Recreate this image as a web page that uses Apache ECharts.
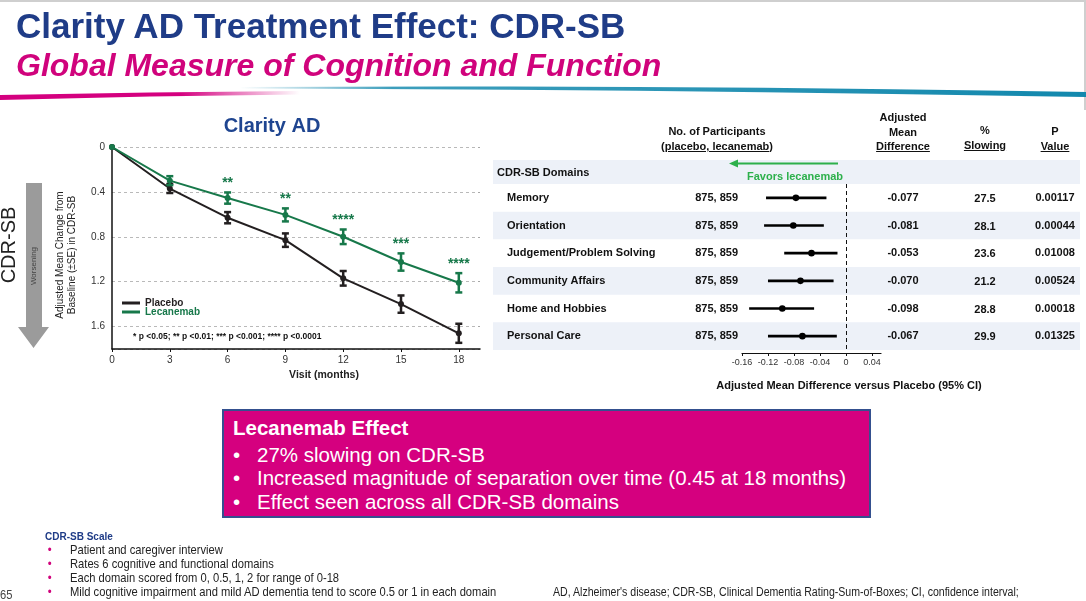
<!DOCTYPE html>
<html>
<head>
<meta charset="utf-8">
<title>Clarity AD Treatment Effect: CDR-SB</title>
<script src="https://cdn.jsdelivr.net/npm/echarts@6/dist/echarts.min.js"></script>
<style>
  html, body { margin: 0; padding: 0; }
  body {
    width: 1086px; height: 601px; overflow: hidden; position: relative;
    background: #fff; font-family: "Liberation Sans", Arial, sans-serif;
  }
  #chart { position: absolute; left: 0; top: 0; width: 1086px; height: 601px; }
  .t { position: absolute; white-space: nowrap; pointer-events: none; }
  .frame-top { position: absolute; left: 0; top: 0; width: 1086px; height: 2px; background: #cfcfcf; }
  .frame-right { position: absolute; right: 0; top: 0; width: 2px; height: 110px; background: #cfcfcf; }
  #title { left: 16px; top: 8px; font-size: 35px; line-height: 35px; font-weight: bold; color: #1f3c87; }
  #subtitle { left: 16px; top: 49px; font-size: 32px; line-height: 32px; font-weight: bold; font-style: italic; color: #d0037c; }
  .hdr { width: 160px; text-align: center; font-size: 11px; line-height: 14.5px; font-weight: bold; color: #111; }
  .hdr u { text-decoration-thickness: 1px; text-underline-offset: 1px; }
  #effect {
    position: absolute; left: 222px; top: 409px; width: 649px; height: 109px; box-sizing: border-box;
    background: #d5007f; border: 2px solid #34508f; color: #fff;
  }
  #effect .eh { position: absolute; left: 9px; top: 5px; font-size: 20.5px; line-height: 24px; font-weight: bold; }
  #effect .eb { position: absolute; left: 33px; font-size: 20.5px; line-height: 24px; white-space: nowrap; }
  #effect .eb span { position: absolute; left: -24px; }
  .narrow {
    font-family: "Liberation Sans Narrow", "Arial Narrow", "Liberation Sans", sans-serif;
    font-size: 13px; line-height: 14px; color: #222; transform: scaleX(0.86); transform-origin: 0 50%;
  }
  .narrow.small { font-size: 12.3px; }
  .dot { color: #d0037c; position: absolute; left: -26px; }
</style>
</head>
<body>
<div id="chart"></div>

<div class="frame-top"></div>
<div class="frame-right"></div>
<div class="t" id="title">Clarity AD Treatment Effect: CDR-SB</div>
<div class="t" id="subtitle">Global Measure of Cognition and Function</div>
<svg class="t" width="1086" height="30" style="left:0;top:80px">
  <defs>
    <linearGradient id="mg" x1="0" x2="1">
      <stop offset="0" stop-color="#d4007f"/>
      <stop offset="0.6" stop-color="#d4007f"/>
      <stop offset="1" stop-color="#d4007f" stop-opacity="0"/>
    </linearGradient>
    <linearGradient id="tl" x1="0" x2="1">
      <stop offset="0" stop-color="#1a8db0" stop-opacity="0"/>
      <stop offset="0.18" stop-color="#1a8db0" stop-opacity="0.85"/>
      <stop offset="1" stop-color="#1288ad"/>
    </linearGradient>
  </defs>
  <path d="M0,15 Q150,12 300,11 L300,14.5 Q150,15.5 0,20 Z" fill="url(#mg)"/>
  <path d="M240,7 Q650,4.5 1086,12 L1086,17 Q650,9.5 240,8.5 Z" fill="url(#tl)"/>
</svg>

<!-- table headings -->
<div class="t hdr" style="left:637px;top:124px">No. of Participants<br><u>(placebo, lecanemab)</u></div>
<div class="t hdr" style="left:823px;top:110px">Adjusted<br>Mean<br><u>Difference</u></div>
<div class="t hdr" style="left:905px;top:123px">%<br><u>Slowing</u></div>
<div class="t hdr" style="left:975px;top:124px">P<br><u>Value</u></div>

<div id="effect">
  <div class="eh">Lecanemab Effect</div>
  <div class="eb" style="top:32px"><span>•</span>27% slowing on CDR-SB</div>
  <div class="eb" style="top:55px"><span>•</span>Increased magnitude of separation over time (0.45 at 18 months)</div>
  <div class="eb" style="top:79px"><span>•</span>Effect seen across all CDR-SB domains</div>
</div>

<div class="t" style="left:45px;top:531px;font-size:10px;line-height:12px;font-weight:bold;color:#1f3c87">CDR-SB Scale</div>
<div class="t narrow" style="left:70px;top:543px"><span class="dot">•</span>Patient and caregiver interview</div>
<div class="t narrow" style="left:70px;top:557px"><span class="dot">•</span>Rates 6 cognitive and functional domains</div>
<div class="t narrow" style="left:70px;top:571px"><span class="dot">•</span>Each domain scored from 0, 0.5, 1, 2 for range of 0-18</div>
<div class="t narrow" style="left:70px;top:585px"><span class="dot">•</span>Mild cognitive impairment and mild AD dementia tend to score 0.5 or 1 in each domain</div>
<div class="t narrow" style="left:0px;top:588px;color:#444">65</div>
<div class="t narrow small" style="left:553px;top:585px">AD, Alzheimer's disease; CDR-SB, Clinical Dementia Rating-Sum-of-Boxes; CI, confidence interval;</div>

<script>
// CDR-SB change from baseline by visit
var visits = [0, 3, 6, 9, 12, 15, 18];
var placeboMean = [0, 0.37, 0.63, 0.83, 1.17, 1.40, 1.66];
var placeboSE = [0, 0.04, 0.05, 0.06, 0.065, 0.077, 0.085];
var lecanemabMean = [0, 0.30, 0.455, 0.605, 0.80, 1.025, 1.21];
var lecanemabSE = [0, 0.04, 0.05, 0.058, 0.065, 0.077, 0.086];
var lecanemabStars = ['', '', '**', '**', '****', '***', '****'];
var changeTicks = [0, 0.4, 0.8, 1.2, 1.6];

// CDR-SB domains
var domains = ['Memory', 'Orientation', 'Judgement/Problem Solving', 'Community Affairs', 'Home and Hobbies', 'Personal Care'];
var participants = ['875, 859', '875, 859', '875, 859', '875, 859', '875, 859', '875, 859'];
var meanDiff = [-0.077, -0.081, -0.053, -0.070, -0.098, -0.067];
var ciLower = [-0.123, -0.126, -0.095, -0.120, -0.149, -0.120];
var ciUpper = [-0.030, -0.034, -0.013, -0.019, -0.049, -0.014];
var diffLabels = ['-0.077', '-0.081', '-0.053', '-0.070', '-0.098', '-0.067'];
var slowing = ['27.5', '28.1', '23.6', '21.2', '28.8', '29.9'];
var pValues = ['0.00117', '0.00044', '0.01008', '0.00524', '0.00018', '0.01325'];
var diffTicks = [-0.16, -0.12, -0.08, -0.04, 0, 0.04];

var FONT = '"Liberation Sans", Arial, sans-serif';
var colorPlacebo = '#231f20';
var colorLecanemab = '#17784a';
var colorFavors = '#2db04b';
var bandColor = '#edf1f8';

var chart = echarts.init(document.getElementById('chart'), null, { renderer: 'canvas' });

function errorBarRenderer(color, stars) {
    return function (params, api) {
        var x = api.value(0);
        var m = api.value(1);
        var s = api.value(2);
        var idx = api.value(3);
        var top = api.coord([x, m - s]);
        var bot = api.coord([x, m + s]);
        var cap = 3.5;
        var style = { stroke: color, lineWidth: 2.5 };
        var children = [
            { type: 'line', shape: { x1: top[0], y1: top[1], x2: bot[0], y2: bot[1] }, style: style },
            { type: 'line', shape: { x1: top[0] - cap, y1: top[1], x2: top[0] + cap, y2: top[1] }, style: style },
            { type: 'line', shape: { x1: bot[0] - cap, y1: bot[1], x2: bot[0] + cap, y2: bot[1] }, style: style }
        ];
        if (stars && stars[idx]) {
            children.push({
                type: 'text', x: top[0], y: top[1] - 9,
                style: { text: stars[idx], fill: color, font: 'bold 14px ' + FONT, textAlign: 'center', textVerticalAlign: 'middle' }
            });
        }
        return { type: 'group', children: children };
    };
}

function errorData(mean, se) {
    var out = [];
    for (var i = 1; i < visits.length; i++) {
        out.push([visits[i], mean[i], se[i], i]);
    }
    return out;
}

function cell(text, x, y, align) {
    return {
        type: 'text', x: x, y: y,
        style: { text: text, fill: '#111', font: 'bold 11px ' + FONT, textAlign: align, textVerticalAlign: 'middle' }
    };
}

function renderRow(params, api) {
    var row = api.value(1);
    var c = api.coord([0, row]);
    var h = api.size([0, 1])[1];
    var y = c[1];
    var children = [];
    if (row % 2 === 1) {
        children.push({ type: 'rect', shape: { x: 493, y: y - h / 2, width: 587, height: h }, style: { fill: bandColor } });
    }
    children.push(cell(domains[row], 507, y, 'left'));
    children.push(cell(participants[row], 738, y, 'right'));
    children.push(cell(diffLabels[row], 903, y, 'center'));
    children.push(cell(slowing[row], 985, y + 1, 'center'));
    children.push(cell(pValues[row], 1055, y, 'center'));
    return { type: 'group', children: children };
}

function renderForest(params, api) {
    var row = api.value(0);
    var lo = api.coord([api.value(1), row]);
    var hi = api.coord([api.value(2), row]);
    var est = api.coord([api.value(3), row]);
    return {
        type: 'group',
        children: [
            { type: 'line', shape: { x1: lo[0], y1: lo[1], x2: hi[0], y2: hi[1] }, style: { stroke: '#000', lineWidth: 2.6 } },
            { type: 'circle', shape: { cx: est[0], cy: est[1], r: 3.3 }, style: { fill: '#000' } }
        ]
    };
}

var legendBase = {
    orient: 'horizontal', left: 117, itemWidth: 18, itemHeight: 3, icon: 'rect', itemGap: 5,
    selectedMode: false, textStyle: { fontSize: 10, fontWeight: 'bold', fontFamily: FONT, padding: [0, 0, 0, 0] }
};

var option = {
    animation: false,
    textStyle: { fontFamily: FONT },
    grid: [
        { left: 112, top: 147, width: 368, height: 202 },
        { left: 742, top: 184, width: 139, height: 166 }
    ],
    legend: [
        echarts.util.merge({ top: 293, data: [{ name: 'Placebo', textStyle: { color: colorPlacebo } }] }, legendBase),
        echarts.util.merge({ top: 302, data: [{ name: 'Lecanemab', textStyle: { color: colorLecanemab } }] }, legendBase)
    ],
    xAxis: [
        {
            gridIndex: 0, type: 'value', min: 0, max: 19.1, interval: 3, position: 'bottom',
            axisLine: { show: true, onZero: false, lineStyle: { color: '#111', width: 1.5 } },
            axisTick: { show: true, length: 3, customValues: visits, lineStyle: { color: '#111' } },
            axisLabel: {
                fontSize: 10, color: '#333', margin: 6, customValues: visits,
                formatter: function (v) { return v % 3 === 0 ? String(v) : ''; }
            },
            splitLine: { show: false }
        },
        {
            gridIndex: 1, type: 'value', min: -0.16, max: 0.054, interval: 0.04, offset: 3, position: 'bottom',
            axisLine: { show: true, onZero: false, lineStyle: { color: '#111', width: 1.2 } },
            axisTick: { show: true, length: 3, customValues: diffTicks, lineStyle: { color: '#111' } },
            axisLabel: {
                fontSize: 9, color: '#333', margin: 5, customValues: diffTicks,
                formatter: function (v) {
                    if (v > 0.045) return '';
                    if (Math.abs(v) < 1e-9) return '0';
                    return v.toFixed(2);
                }
            },
            splitLine: { show: false }
        }
    ],
    yAxis: [
        {
            gridIndex: 0, type: 'value', inverse: true, min: 0, max: 1.8, interval: 0.4,
            axisLine: { show: true, onZero: false, lineStyle: { color: '#111', width: 1.5 } },
            axisTick: { show: false },
            axisLabel: {
                fontSize: 10, color: '#333', margin: 7, customValues: changeTicks,
                formatter: function (v) {
                    if (v > 1.7) return '';
                    return v === 0 ? '0' : v.toFixed(1);
                }
            },
            splitLine: { lineStyle: { type: [3, 3], color: '#a8a8a8', width: 0.8 } }
        },
        { gridIndex: 1, type: 'category', data: domains, inverse: true, show: false }
    ],
    series: [
        {
            name: 'Placebo', type: 'line', xAxisIndex: 0, yAxisIndex: 0,
            data: visits.map(function (v, i) { return [v, placeboMean[i]]; }),
            symbol: 'circle', symbolSize: 6, showAllSymbol: true,
            lineStyle: { color: colorPlacebo, width: 2 }, itemStyle: { color: colorPlacebo }, z: 2
        },
        {
            name: 'Lecanemab', type: 'line', xAxisIndex: 0, yAxisIndex: 0,
            data: visits.map(function (v, i) { return [v, lecanemabMean[i]]; }),
            symbol: 'circle', symbolSize: 6, showAllSymbol: true,
            lineStyle: { color: colorLecanemab, width: 2 }, itemStyle: { color: colorLecanemab }, z: 3
        },
        {
            name: 'Placebo SE', type: 'custom', xAxisIndex: 0, yAxisIndex: 0, clip: false,
            data: errorData(placeboMean, placeboSE), encode: { x: 0, y: 1 },
            renderItem: errorBarRenderer(colorPlacebo, null), z: 4
        },
        {
            name: 'Lecanemab SE', type: 'custom', xAxisIndex: 0, yAxisIndex: 0, clip: false,
            data: errorData(lecanemabMean, lecanemabSE), encode: { x: 0, y: 1 },
            renderItem: errorBarRenderer(colorLecanemab, lecanemabStars), z: 5
        },
        {
            name: 'Domain rows', type: 'custom', xAxisIndex: 1, yAxisIndex: 1, clip: false,
            data: domains.map(function (d, i) { return [0, i]; }), encode: { x: 0, y: 1 },
            renderItem: renderRow, z: 1, silent: true
        },
        {
            name: 'Mean difference', type: 'custom', xAxisIndex: 1, yAxisIndex: 1, clip: false,
            data: domains.map(function (d, i) { return [i, ciLower[i], ciUpper[i], meanDiff[i]]; }),
            encode: { x: [1, 2, 3], y: 0 },
            renderItem: renderForest, z: 3,
            markLine: {
                silent: true, symbol: 'none', label: { show: false },
                lineStyle: { type: [4, 3], color: '#111', width: 1 },
                data: [{ xAxis: 0 }]
            }
        }
    ],
    graphic: {
        elements: [
            // left side: CDR-SB label and worsening arrow
            {
                type: 'text', x: 9, y: 245, rotation: Math.PI / 2,
                style: { text: 'CDR-SB', fill: '#222', font: '20px ' + FONT, textAlign: 'center', textVerticalAlign: 'middle' }
            },
            {
                type: 'polygon',
                shape: { points: [[26, 183], [42, 183], [42, 327], [49, 327], [33.5, 348], [18, 327], [26, 327]] },
                style: { fill: '#9b9b9b' }
            },
            {
                type: 'text', x: 34, y: 266, rotation: Math.PI / 2,
                style: { text: 'Worsening', fill: '#444', font: '8px ' + FONT, textAlign: 'center', textVerticalAlign: 'middle' }
            },
            {
                type: 'text', x: 66, y: 255, rotation: Math.PI / 2,
                style: {
                    text: 'Adjusted Mean Change from\nBaseline (\u00b1SE) in CDR-SB', fill: '#222',
                    font: '10px ' + FONT, lineHeight: 12, textAlign: 'center', textVerticalAlign: 'middle'
                }
            },
            {
                type: 'text', x: 272, y: 126,
                style: { text: 'Clarity AD', fill: '#1f4590', font: 'bold 20px ' + FONT, textAlign: 'center', textVerticalAlign: 'middle' }
            },
            {
                type: 'text', x: 324, y: 375,
                style: { text: 'Visit (months)', fill: '#222', font: 'bold 10.5px ' + FONT, textAlign: 'center', textVerticalAlign: 'middle' }
            },
            {
                type: 'text', x: 133, y: 337,
                style: { text: '* p <0.05; ** p <0.01; *** p <0.001; **** p <0.0001', fill: '#111', font: 'bold 8.5px ' + FONT, textAlign: 'left', textVerticalAlign: 'middle' }
            },
            // right side: domain header row
            { type: 'rect', shape: { x: 493, y: 160, width: 587, height: 24 }, style: { fill: bandColor }, z: -1 },
            {
                type: 'text', x: 497, y: 173,
                style: { text: 'CDR-SB Domains', fill: '#111', font: 'bold 11px ' + FONT, textAlign: 'left', textVerticalAlign: 'middle' }
            },
            { type: 'line', shape: { x1: 736, y1: 163.5, x2: 838, y2: 163.5 }, style: { stroke: colorFavors, lineWidth: 2 } },
            { type: 'polygon', shape: { points: [[729, 163.5], [738, 159.5], [738, 167.5]] }, style: { fill: colorFavors } },
            {
                type: 'text', x: 795, y: 177,
                style: { text: 'Favors lecanemab', fill: colorFavors, font: 'bold 11px ' + FONT, textAlign: 'center', textVerticalAlign: 'middle' }
            },
            {
                type: 'text', x: 849, y: 386,
                style: { text: 'Adjusted Mean Difference versus Placebo (95% CI)', fill: '#111', font: 'bold 11px ' + FONT, textAlign: 'center', textVerticalAlign: 'middle' }
            }
        ]
    }
};

chart.setOption(option);
</script>
</body>
</html>
